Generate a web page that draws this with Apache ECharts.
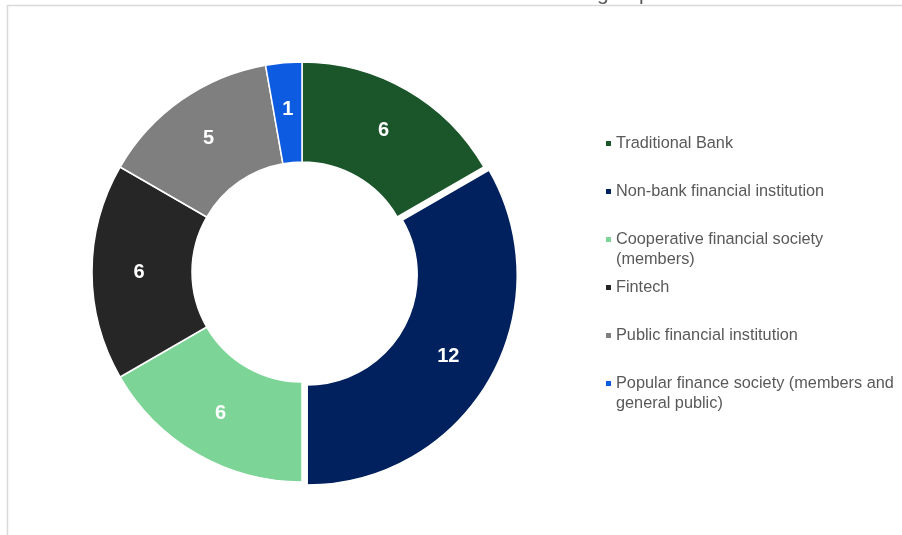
<!DOCTYPE html>
<html>
<head>
<meta charset="utf-8">
<style>
  html, body { margin: 0; padding: 0; background: #ffffff; }
  #chart { width: 902px; height: 535px; }
</style>
<script src="https://cdn.jsdelivr.net/npm/echarts@6/dist/echarts.min.js"></script>
</head>
<body>
<div id="chart"></div>
<script>
// Institution types and number of entities in each
const categories = [
  'Traditional Bank',
  'Non-bank financial institution',
  'Cooperative financial society (members)',
  'Fintech',
  'Public financial institution',
  'Popular finance society (members and general public)'
];
const counts = [6, 12, 6, 6, 5, 1];
const sliceColors = ['#1b562b', '#00215e', '#7cd596', '#262626', '#7f7f7f', '#0d5be1'];

// Legend text broken over lines where the label is long
const legendLines = [
  ['Traditional Bank'],
  ['Non-bank financial institution'],
  ['Cooperative financial society', '(members)'],
  ['Fintech'],
  ['Public financial institution'],
  ['Popular finance society (members and', 'general public)']
];
const titleText = 'group';

const FONT = '"Liberation Sans", Arial, sans-serif';
const LEGEND_FIRST_LINE_Y = 143.5;
const LEGEND_STEP = 48;
const LINE_H = 20;

const pieData = categories.map((name, i) => ({
  name: name,
  value: counts[i],
  selected: name === 'Non-bank financial institution',
  itemStyle: { color: sliceColors[i] }
}));

// One legend block per entry so every entry sits on a fixed row,
// with the marker lined up on the first text line.
const legends = categories.map((name, i) => {
  const lines = legendLines[i];
  const text = lines.length > 1 ? '\n' + lines.join('\n') : lines[0];
  const blockH = (lines.length > 1 ? 3 : 1) * LINE_H;
  const centerY = LEGEND_FIRST_LINE_Y + i * LEGEND_STEP;
  return {
    data: [name],
    orient: 'vertical',
    left: 606,
    top: centerY - blockH / 2,
    padding: 0,
    icon: 'rect',
    itemWidth: 5,
    itemHeight: 5,
    itemStyle: { borderWidth: 0 },
    selectedMode: false,
    formatter: () => text,
    textStyle: {
      fontFamily: FONT,
      fontSize: 16.3,
      color: '#595959',
      lineHeight: LINE_H
    }
  };
});

const chart = echarts.init(document.getElementById('chart'), null, { renderer: 'canvas' });
chart.setOption({
  animation: false,
  backgroundColor: '#ffffff',
  tooltip: { show: false },
  legend: legends,
  graphic: [
    {
      type: 'text',
      left: 597,
      top: -16,
      z: 1,
      style: {
        text: titleText,
        font: '21px ' + FONT,
        fill: '#595959'
      }
    },
    {
      type: 'rect',
      z: 2,
      silent: true,
      shape: { x: 7.5, y: 5.5, width: 1200, height: 1200 },
      style: { fill: null, stroke: '#d9d9d9', lineWidth: 1.5 }
    }
  ],
  series: [{
    type: 'pie',
    center: [302, 272],
    radius: [110, 210],
    startAngle: 90,
    clockwise: true,
    selectedMode: 'single',
    selectedOffset: 6,
    avoidLabelOverlap: false,
    itemStyle: { borderColor: '#ffffff', borderWidth: 1.5 },
    label: {
      show: true,
      position: 'inside',
      formatter: '{c}',
      color: '#ffffff',
      fontFamily: FONT,
      fontWeight: 'bold',
      fontSize: 20
    },
    labelLine: { show: false },
    emphasis: { disabled: true },
    data: pieData
  }]
});
</script>
</body>
</html>
